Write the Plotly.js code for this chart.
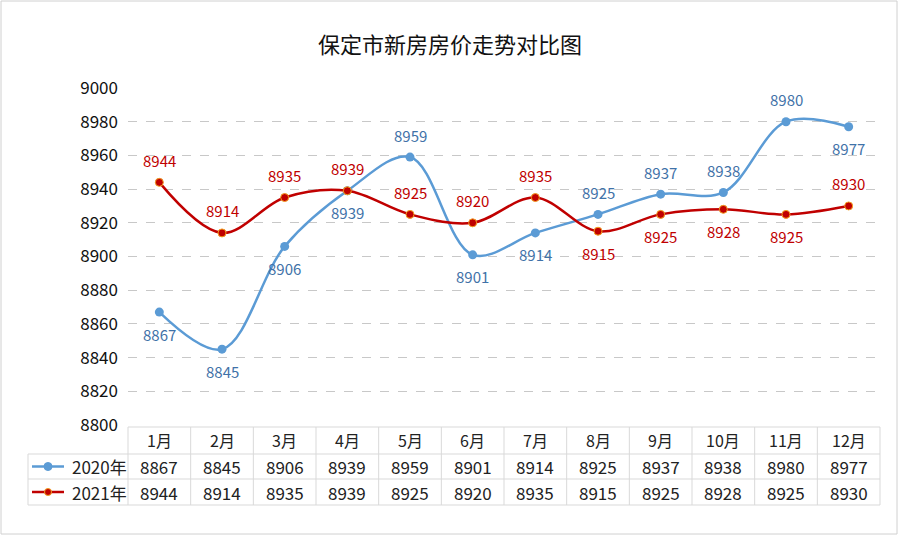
<!DOCTYPE html>
<html>
<head>
<meta charset="utf-8">
<script src="https://cdn.plot.ly/plotly-3.0.1.min.js"></script>
<style>html,body{margin:0;padding:0;background:#fff;}#chart{width:900px;height:536px;}</style>
</head>
<body>
<div id="chart"></div>
<script>
var months = ['1月','2月','3月','4月','5月','6月','7月','8月','9月','10月','11月','12月'];
var series2020 = [8867, 8845, 8906, 8939, 8959, 8901, 8914, 8925, 8937, 8938, 8980, 8977];
var series2021 = [8944, 8914, 8935, 8939, 8925, 8920, 8935, 8915, 8925, 8928, 8925, 8930];
var name2020 = '2020年';
var name2021 = '2021年';
// label side: +1 above, -1 below
var side2020 = [-1, -1, -1, -1, 1, -1, -1, 1, 1, 1, 1, -1];
var side2021 = [1, 1, 1, 1, 1, 1, 1, -1, -1, -1, -1, 1];
var titleText = '保定市新房房价走势对比图';

var W = 900, H = 536, L = 128, R = 880, T = 88, B = 425;
function px(x){ return (x - L) / (R - L); }
function py(y){ return (B - y) / (B - T); }

var blue = '#5B9BD5', red = '#C00000';
var font = '"Noto Sans CJK SC", "Microsoft YaHei", sans-serif';

var traces = [
  {x: months, y: series2020, name: name2020, mode: 'lines+markers', type: 'scatter',
   line: {color: blue, width: 2.5, shape: 'spline', smoothing: 1},
   marker: {color: blue, size: 9}, cliponaxis: false},
  {x: months, y: series2021, name: name2021, mode: 'lines+markers', type: 'scatter',
   line: {color: red, width: 2.5, shape: 'spline', smoothing: 1},
   marker: {color: red, size: 8, line: {color: '#F4A020', width: 1}}, cliponaxis: false}
];

var gridc = '#D9D9D9';
var shapes = [];
function hline(y, x0, x1){ shapes.push({type:'line', xref:'paper', yref:'paper', x0:px(x0), x1:px(x1), y0:py(y), y1:py(y), line:{color:gridc, width:1}}); }
function vline(x, y0, y1){ shapes.push({type:'line', xref:'paper', yref:'paper', x0:px(x), x1:px(x), y0:py(y0), y1:py(y1), line:{color:gridc, width:1}}); }
var colW = (R - L) / months.length;
hline(427, L, R);
hline(454, 28, R);
hline(479, 28, R);
hline(505, 28, R);
for (var i = 0; i <= months.length; i++) vline(L + i * colW, 427, 505);
vline(28, 454, 505);
shapes.push({type:'rect', xref:'paper', yref:'paper', x0:px(1), x1:px(897), y0:py(1), y1:py(534), line:{color:'#D0D0D0', width:1}, layer:'below'});
shapes.push({type:'line', xref:'paper', yref:'paper', x0:px(32), x1:px(64), y0:py(466.5), y1:py(466.5), line:{color:blue, width:2.5}});
shapes.push({type:'circle', xref:'paper', yref:'paper', x0:px(44), x1:px(52), y0:py(462.5), y1:py(470.5), fillcolor:blue, line:{color:blue, width:1}});
shapes.push({type:'line', xref:'paper', yref:'paper', x0:px(32), x1:px(64), y0:py(492), y1:py(492), line:{color:red, width:2.5}});
shapes.push({type:'circle', xref:'paper', yref:'paper', x0:px(44.5), x1:px(51.5), y0:py(488.5), y1:py(495.5), fillcolor:red, line:{color:'#F4A020', width:1}});

var ann = [];
var tf = {family: font, size: 17, color: '#222'};
months.forEach(function(m, i){
  ann.push({xref:'x', yref:'paper', x:i, y:py(440), text:m, showarrow:false, font:{family:font, size:16, color:'#222'}, xanchor:'center', yanchor:'middle'});
  ann.push({xref:'x', yref:'paper', x:i, y:py(466.5), text:String(series2020[i]), showarrow:false, font:tf, xanchor:'center', yanchor:'middle'});
  ann.push({xref:'x', yref:'paper', x:i, y:py(492), text:String(series2021[i]), showarrow:false, font:tf, xanchor:'center', yanchor:'middle'});
  ann.push({xref:'x', yref:'y', x:i, y:series2020[i], yshift:22*side2020[i], text:String(series2020[i]), showarrow:false,
            font:{family:font, size:15, color:'#3F72A8'}, xanchor:'center', yanchor:'middle'});
  ann.push({xref:'x', yref:'y', x:i, y:series2021[i], yshift:22*side2021[i], text:String(series2021[i]), showarrow:false,
            font:{family:font, size:15, color:red}, xanchor:'center', yanchor:'middle'});
});
ann.push({xref:'paper', yref:'paper', x:px(70), y:py(466.5), text:name2020, showarrow:false, font:tf, xanchor:'left', yanchor:'middle'});
ann.push({xref:'paper', yref:'paper', x:px(70), y:py(492), text:name2021, showarrow:false, font:tf, xanchor:'left', yanchor:'middle'});

var layout = {
  width: W, height: H,
  margin: {l: L, r: W - R, t: T, b: H - B},
  paper_bgcolor: '#fff', plot_bgcolor: '#fff',
  title: {text: titleText, x: 0.5, xanchor: 'center', y: 1 - 45 / H, yanchor: 'middle', font: {family: font, size: 22, color: '#111'}},
  showlegend: false,
  xaxis: {type: 'category', range: [-0.5, 11.5], showticklabels: false, showgrid: false, zeroline: false, showline: false, fixedrange: true},
  yaxis: {range: [8800, 9000], dtick: 20, tick0: 8800, showgrid: true, gridcolor: '#C8C8C8', griddash: 'dash', gridwidth: 1,
          zeroline: false, showline: false, ticks: '', ticklabelstandoff: 9,
          tickfont: {family: font, size: 17, color: '#111'}, fixedrange: true},
  shapes: shapes,
  annotations: ann
};

Plotly.newPlot('chart', traces, layout, {displayModeBar: false, staticPlot: true});
</script>
</body>
</html>
